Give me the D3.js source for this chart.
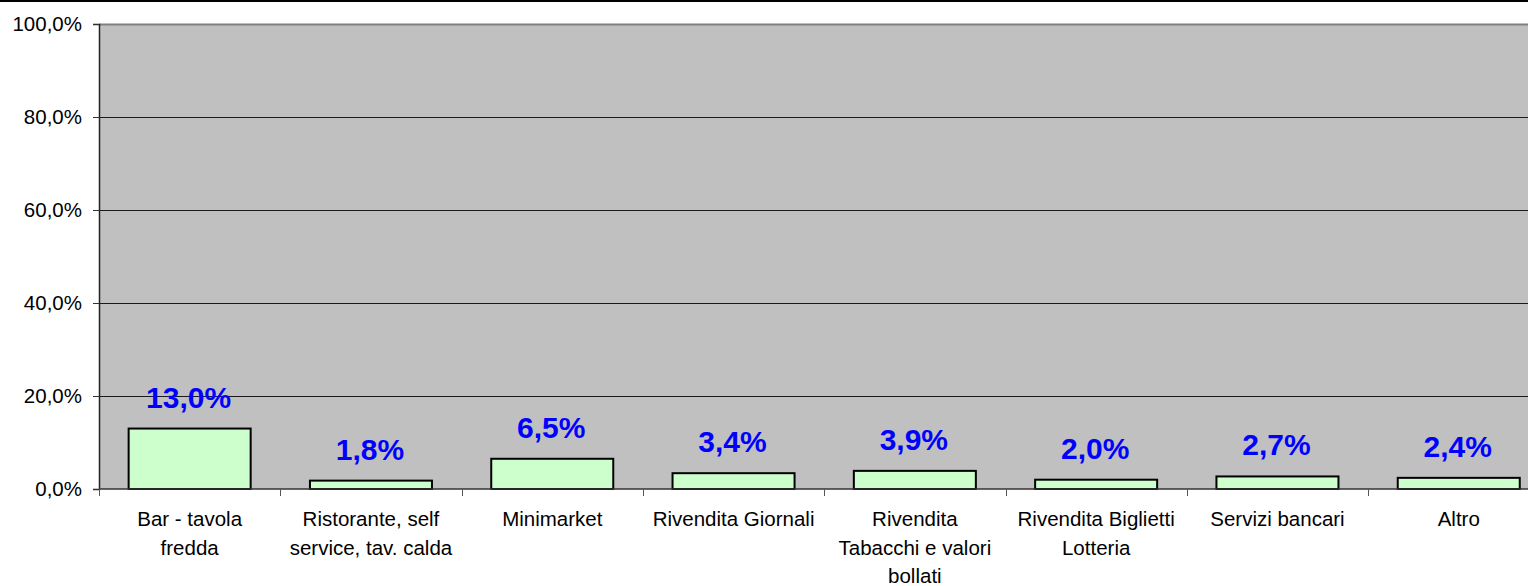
<!DOCTYPE html>
<html>
<head>
<meta charset="utf-8">
<script src="https://cdn.jsdelivr.net/npm/d3@7"></script>
<style>
  html, body { margin: 0; padding: 0; background: #fff; }
  svg { display: block; font-family: "Liberation Sans", Arial, sans-serif; }
</style>
</head>
<body>
<div id="chart"></div>
<script>
// categorie (righe già spezzate come nel grafico originale)
const categories = [
  ["Bar - tavola", "fredda"],
  ["Ristorante, self", "service, tav. calda"],
  ["Minimarket"],
  ["Rivendita Giornali"],
  ["Rivendita", "Tabacchi e valori", "bollati"],
  ["Rivendita Biglietti", "Lotteria"],
  ["Servizi bancari"],
  ["Altro"]
];
const values = [13.0, 1.8, 6.5, 3.4, 3.9, 2.0, 2.7, 2.4];
const yTicks = [0, 20, 40, 60, 80, 100];

const WIDTH = 1528;
const HEIGHT = 586;
const LEFT = 99, TOP = 24, BOTTOM = 489;
const RIGHT = 99 + 8 * 181.3; // il plot esce dal bordo destro

const fmt = d => d.toFixed(1).replace(".", ",") + "%";

const svg = d3.select("#chart").append("svg")
  .attr("width", WIDTH).attr("height", HEIGHT);

const data = categories.map((c, i) => ({ key: i, lines: c, value: values[i] }));

const x = d3.scaleBand()
  .domain(data.map(d => d.key))
  .range([LEFT, RIGHT])
  .paddingInner(0.327)
  .paddingOuter(0.1635);

const y = d3.scaleLinear().domain([0, 100]).range([BOTTOM, TOP]);

// sfondo area del grafico
svg.append("rect")
  .attr("x", LEFT).attr("y", TOP)
  .attr("width", RIGHT - LEFT).attr("height", BOTTOM - TOP)
  .attr("fill", "#c0c0c0");

// linea nera in alto
svg.append("rect")
  .attr("x", 0).attr("y", 0).attr("width", WIDTH).attr("height", 2)
  .attr("fill", "#000");

// griglia
svg.append("g").selectAll("line")
  .data(yTicks.filter(t => t > 0 && t < 100))
  .enter().append("line")
  .attr("x1", LEFT).attr("x2", RIGHT)
  .attr("y1", d => Math.round(y(d)) + 0.5).attr("y2", d => Math.round(y(d)) + 0.5)
  .attr("stroke", "#1a1a1a").attr("stroke-width", 1);

// bordo superiore
svg.append("line")
  .attr("x1", LEFT).attr("x2", RIGHT)
  .attr("y1", TOP + 0.5).attr("y2", TOP + 0.5)
  .attr("stroke", "#808080").attr("stroke-width", 2);

// barre
svg.append("g").selectAll("rect")
  .data(data)
  .enter().append("rect")
  .attr("x", d => x(d.key))
  .attr("y", d => y(d.value))
  .attr("width", x.bandwidth())
  .attr("height", d => y(0) - y(d.value))
  .attr("fill", "#ccffcc")
  .attr("stroke", "#000")
  .attr("stroke-width", 2);

// etichette valori
svg.append("g").selectAll("text")
  .data(data)
  .enter().append("text")
  .attr("x", d => x(d.key) + x.bandwidth() / 2 - 1)
  .attr("y", d => y(d.value) - 21)
  .attr("text-anchor", "middle")
  .attr("font-size", 30)
  .attr("font-weight", "bold")
  .attr("fill", "#0000ff")
  .text(d => fmt(d.value));

// asse y
const yAxis = svg.append("g")
  .attr("transform", `translate(${LEFT},0)`)
  .call(d3.axisLeft(y).tickValues(yTicks).tickSize(6).tickPadding(11).tickFormat(fmt));
yAxis.select(".domain").attr("stroke", "#222").attr("stroke-width", 1.5);
yAxis.selectAll(".tick line").attr("stroke", "#333");
yAxis.selectAll(".tick text")
  .attr("font-size", 20.5).attr("fill", "#000")
  .attr("font-family", "Liberation Sans, Arial, sans-serif");

// asse x
svg.append("line")
  .attr("x1", LEFT).attr("x2", RIGHT)
  .attr("y1", BOTTOM).attr("y2", BOTTOM)
  .attr("stroke", "#333").attr("stroke-width", 1.5);

const step = x.step();
svg.append("g").selectAll("line")
  .data(d3.range(categories.length + 1))
  .enter().append("line")
  .attr("x1", i => Math.round(LEFT + i * step) + 0.5)
  .attr("x2", i => Math.round(LEFT + i * step) + 0.5)
  .attr("y1", BOTTOM).attr("y2", BOTTOM + 7)
  .attr("stroke", "#555");

const labels = svg.append("g").selectAll("text")
  .data(data)
  .enter().append("text")
  .attr("text-anchor", "middle")
  .attr("font-size", 20.5)
  .attr("fill", "#000")
  .attr("transform", d => `translate(${x(d.key) + x.bandwidth() / 2},526)`);

labels.selectAll("tspan")
  .data(d => d.lines)
  .enter().append("tspan")
  .attr("x", 0)
  .attr("y", (l, i) => i * 28.5)
  .text(l => l);
</script>
</body>
</html>
